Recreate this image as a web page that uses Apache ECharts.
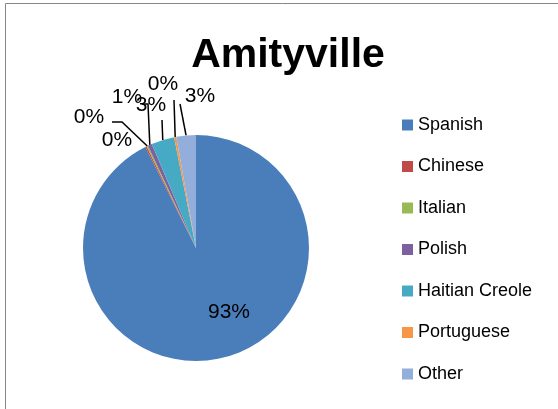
<!DOCTYPE html>
<html>
<head>
<meta charset="utf-8">
<script src="https://cdn.jsdelivr.net/npm/echarts@6/dist/echarts.min.js"></script>
<style>
  html, body { margin: 0; padding: 0; background: #fff; }
  #chart { width: 558px; height: 409px; }
</style>
</head>
<body>
<div id="chart"></div>
<script>
// Home languages spoken in Amityville (share of speakers, %)
const languages = ['Spanish', 'Chinese', 'Italian', 'Polish', 'Haitian Creole', 'Portuguese', 'Other'];
const shares = [92.6, 0.2, 0.2, 0.6, 3.3, 0.3, 2.8];
const sliceColors = ['#4A7EBB', '#BE4B48', '#98B954', '#7D60A0', '#46AAC5', '#F79646', '#93AEDA'];

// Where each percentage label sits, and the elbow of its leader line
const labelSpots = [
  { x: 229, y: 312, line: false },
  { x: 117, y: 140, line: false },
  { x: 89,  y: 117, line: true, bend: [[122, 122], [112, 122]] },
  { x: 127, y: 97,  line: true, bend: [[148, 104], [142, 104]] },
  { x: 151, y: 105, line: true, bend: [[162, 120], [162, 120]] },
  { x: 163, y: 84,  line: true, bend: [[174, 100], [174, 100]] },
  { x: 200, y: 96,  line: true, bend: [[180, 104], [180, 104]] }
];

const chart = echarts.init(document.getElementById('chart'), null, { renderer: 'canvas' });

const pieData = languages.map((name, i) => ({
  name: name,
  value: shares[i],
  itemStyle: { color: sliceColors[i] },
  labelLine: { show: labelSpots[i].line }
}));

chart.setOption({
  backgroundColor: '#ffffff',
  animation: false,
  graphic: [{
    type: 'rect',
    shape: { x: 5.5, y: 3.5, width: 600, height: 500 },
    style: { fill: 'none', stroke: '#878787', lineWidth: 1 },
    silent: true
  }],
  title: {
    text: 'Amityville',
    left: 283,
    textAlign: 'center',
    top: 30,
    textStyle: {
      fontFamily: 'Liberation Sans',
      fontWeight: 'bold',
      fontSize: 41,
      color: '#000'
    }
  },
  legend: {
    orient: 'vertical',
    left: 397,
    top: 111,
    itemWidth: 11,
    itemHeight: 11,
    itemGap: 23.5,
    icon: 'rect',
    data: languages,
    textStyle: {
      fontFamily: 'Liberation Sans',
      fontSize: 18,
      lineHeight: 18,
      color: '#000',
      padding: [0, 0, 0, 0]
    }
  },
  series: [{
    type: 'pie',
    center: [196, 248],
    radius: 113,
    startAngle: 90,
    clockwise: true,
    avoidLabelOverlap: false,
    percentPrecision: 0,
    itemStyle: { borderWidth: 0, borderColor: 'transparent' },
    label: {
      show: true,
      formatter: '{d}%',
      fontFamily: 'Liberation Sans',
      fontSize: 21,
      color: '#000'
    },
    labelLine: {
      show: true,
      length: 10,
      length2: 10,
      lineStyle: { color: '#000', width: 1.5 }
    },
    emphasis: { disabled: true },
    labelLayout: function (params) {
      const spot = labelSpots[params.dataIndex];
      const out = { x: spot.x, y: spot.y, align: 'center', verticalAlign: 'middle' };
      if (spot.line && params.labelLinePoints) {
        const start = params.labelLinePoints[0];
        out.labelLinePoints = [start, spot.bend[0], spot.bend[1]];
      }
      return out;
    },
    data: pieData
  }]
});
</script>
</body>
</html>
